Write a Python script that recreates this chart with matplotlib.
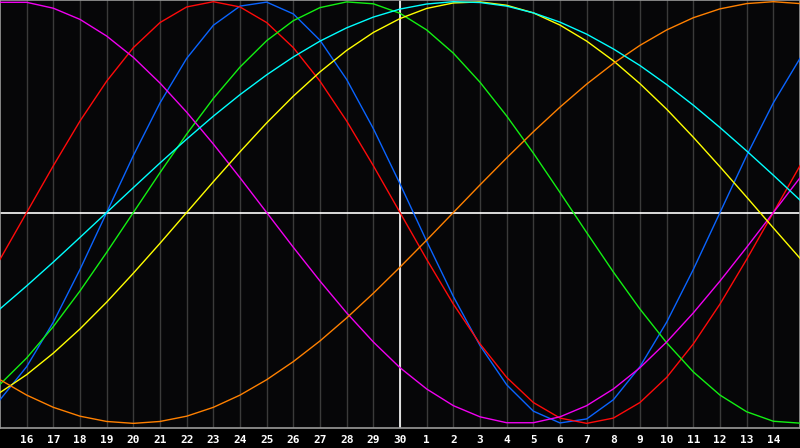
import matplotlib
matplotlib.use("Agg")
import matplotlib.pyplot as plt

# x positions: day index 0 = the 15th (left edge) ... 30 = the 15th of next month
day_index = list(range(31))
tick_labels = ["16", "17", "18", "19", "20", "21", "22", "23", "24", "25", "26", "27",
               "28", "29", "30", "1", "2", "3", "4", "5", "6", "7", "8", "9", "10",
               "11", "12", "13", "14"]

physical = [-0.888, -0.731, -0.520, -0.270, 0.0, 0.270, 0.520, 0.731, 0.888, 0.979,
            0.998, 0.942, 0.817, 0.631, 0.398, 0.136, -0.136, -0.398, -0.631, -0.817,
            -0.942, -0.998, -0.979, -0.888, -0.731, -0.520, -0.270, 0.0, 0.270, 0.520,
            0.731]
emotional = [-0.222, 0.0, 0.222, 0.434, 0.623, 0.782, 0.901, 0.975, 1.0, 0.975,
             0.901, 0.782, 0.623, 0.434, 0.222, 0.0, -0.222, -0.434, -0.623, -0.782,
             -0.901, -0.975, -1.0, -0.975, -0.901, -0.782, -0.623, -0.434, -0.222, 0.0,
             0.222]
intellectual = [-0.815, -0.690, -0.541, -0.372, -0.189, 0.0, 0.189, 0.372, 0.541, 0.690,
                0.815, 0.910, 0.972, 0.999, 0.990, 0.945, 0.866, 0.756, 0.618, 0.458,
                0.282, 0.095, -0.095, -0.282, -0.458, -0.618, -0.756, -0.866, -0.945,
                -0.990, -0.999]
intuitive = [0.997, 0.997, 0.969, 0.916, 0.837, 0.736, 0.614, 0.476, 0.325, 0.165,
             0.0, -0.165, -0.325, -0.476, -0.614, -0.736, -0.837, -0.916, -0.969, -0.997,
             -0.997, -0.969, -0.916, -0.837, -0.736, -0.614, -0.476, -0.325, -0.165, 0.0,
             0.165]
aesthetic = [-0.854, -0.769, -0.667, -0.552, -0.425, -0.288, -0.146, 0.0, 0.146, 0.288,
             0.425, 0.552, 0.667, 0.769, 0.854, 0.920, 0.968, 0.994, 0.999, 0.983,
             0.947, 0.889, 0.813, 0.720, 0.611, 0.490, 0.357, 0.217, 0.073, -0.073,
             -0.217]
awareness = [-0.793, -0.866, -0.924, -0.966, -0.991, -1.0, -0.991, -0.966, -0.924, -0.866,
             -0.793, -0.707, -0.609, -0.5, -0.383, -0.259, -0.131, 0.0, 0.131, 0.259,
             0.383, 0.5, 0.609, 0.707, 0.793, 0.866, 0.924, 0.966, 0.991, 1.0, 0.991]
spiritual = [-0.457, -0.348, -0.235, -0.118, 0.0, 0.118, 0.235, 0.348, 0.457, 0.559,
             0.653, 0.738, 0.813, 0.876, 0.927, 0.965, 0.989, 1.0, 0.996, 0.979,
             0.947, 0.903, 0.846, 0.776, 0.697, 0.607, 0.509, 0.403, 0.292, 0.177, 0.059]

series = [
    (physical, "#0a64ff"),
    (emotional, "#ff0a0a"),
    (intellectual, "#12f012"),
    (intuitive, "#f000f0"),
    (aesthetic, "#ffff00"),
    (awareness, "#ff8000"),
    (spiritual, "#00ffff"),
]

BG = "#060608"
fig = plt.figure(figsize=(8.0, 4.48), dpi=100, facecolor="black")
ax = fig.add_axes([0, 20 / 448, 1, 428 / 448])
ax.set_facecolor(BG)

ax.set_xlim(0, 30)
ax.set_ylim(-1.022, 1.008)

ax.set_xticks(range(1, 30))
ax.set_yticks([])
ax.tick_params(axis="x", length=0, labelbottom=False)
ax.grid(axis="x", color="#3a3a3a", linewidth=1.0)

for s in ax.spines.values():
    s.set_color("#9a9a9a")
    s.set_linewidth(1.2)

ax.axvline(15, color="white", linewidth=1.2, zorder=2)
ax.axhline(0, color="white", linewidth=1.2, zorder=2)

for vals, col in series:
    ax.plot(day_index, vals, color=col, linewidth=1.0, zorder=3)

for pos, lab in zip(range(1, 30), tick_labels):
    ax.text(pos, -0.035, lab, transform=ax.get_xaxis_transform(),
            ha="center", va="baseline", color="white",
            fontsize=8, fontweight="bold", family="DejaVu Sans Mono",
            clip_on=False)

fig.savefig("out.png", dpi=100, facecolor="black")
